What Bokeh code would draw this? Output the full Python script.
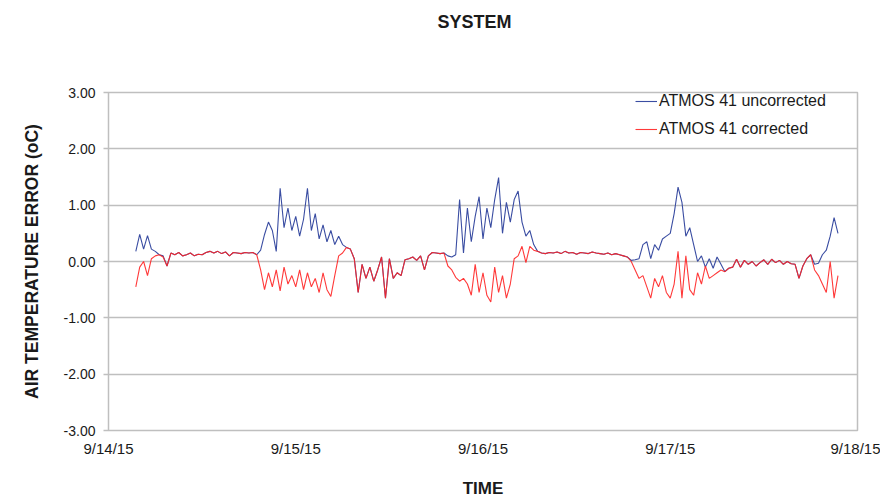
import pandas as pd
from bokeh.plotting import figure
from bokeh.models import (FixedTicker, NumeralTickFormatter, Legend, LegendItem,
                          Range1d, ColumnDataSource, Title)
from bokeh.embed import file_html
from bokeh.resources import INLINE

# ---------------- data ----------------
start = pd.Timestamp("2015-09-14 00:00")
first_hour = 3.5          # first sample, hours after 9/14/15 00:00
step_hours = 0.5          # sampling interval

uncorrected = [
    # early morning 9/14
    0.18, 0.48, 0.22, 0.46, 0.22, 0.18, 0.12, 0.10, -0.08, 0.15, 0.12, 0.16,
    0.10, 0.12, 0.15, 0.10, 0.13, 0.12, 0.16, 0.18, 0.15, 0.18, 0.14, 0.17,
    0.10, 0.16, 0.15, 0.14, 0.16, 0.15, 0.16, 0.12,
    # day 1
    0.20, 0.48, 0.70, 0.55, 0.18, 1.30, 0.60, 0.95, 0.55, 0.80, 0.45, 0.75,
    1.30, 0.55, 0.85, 0.40, 0.65, 0.35, 0.55, 0.30, 0.45, 0.30,
    # night 1
    0.25, 0.22, 0.05, -0.55, -0.05, -0.30, -0.10, -0.35, -0.15, 0.08, -0.65, 0.05,
    -0.30, -0.20, -0.25, 0.03, 0.05, 0.08, 0.02, 0.10, -0.15, 0.10, 0.16, 0.15,
    0.14, 0.15,
    # day 2
    0.10, 0.08, 0.12, 1.10, 0.15, 0.95, 0.35, 0.80, 1.15, 0.40, 0.95, 0.60,
    1.10, 1.49, 0.50, 1.05, 0.70, 1.10, 1.25, 0.70, 0.45, 0.55, 0.30,
    # night 2
    0.18, 0.15, 0.14, 0.16, 0.15, 0.17, 0.14, 0.18, 0.15, 0.16, 0.13, 0.16,
    0.15, 0.14, 0.17, 0.15, 0.14, 0.13, 0.15, 0.12, 0.14, 0.12, 0.10, 0.08,
    # day 3
    0.02, 0.03, 0.05, 0.30, 0.35, 0.05, 0.30, 0.20, 0.40, 0.45, 0.50, 0.85,
    1.32, 1.05, 0.45, 0.60, 0.30, 0.00, 0.10, -0.10, 0.05, -0.12, 0.08, -0.05,
    # night 3
    -0.18, -0.12, -0.10, 0.04, -0.10, 0.02, -0.05, 0.00, -0.08, -0.02, 0.03, -0.05,
    0.04, -0.02, 0.02, -0.05, 0.00, -0.04, -0.05, -0.30, -0.08, 0.05, 0.12,
    # morning 9/17 end
    -0.05, -0.03, 0.12, 0.20, 0.45, 0.78, 0.50,
]

corrected = [
    # early morning 9/14
    -0.45, -0.10, 0.00, -0.25, 0.05, 0.10, 0.12, 0.08, -0.08, 0.15, 0.12, 0.16,
    0.10, 0.12, 0.15, 0.10, 0.13, 0.12, 0.16, 0.18, 0.15, 0.18, 0.14, 0.17,
    0.10, 0.16, 0.15, 0.14, 0.16, 0.15, 0.16, 0.12,
    # day 1
    -0.15, -0.50, -0.20, -0.45, -0.15, -0.52, -0.10, -0.40, -0.25, -0.45, -0.15, -0.50,
    -0.20, -0.45, -0.30, -0.55, -0.20, -0.50, -0.62, -0.25, 0.10, 0.15,
    # night 1
    0.25, 0.22, 0.05, -0.55, -0.05, -0.30, -0.10, -0.35, -0.15, 0.08, -0.65, 0.05,
    -0.30, -0.20, -0.25, 0.03, 0.05, 0.08, 0.02, 0.10, -0.15, 0.10, 0.16, 0.15,
    0.14, 0.15,
    # day 2
    -0.08, -0.15, -0.28, -0.35, -0.30, -0.40, -0.60, -0.05, -0.55, -0.20, -0.60, -0.72,
    -0.10, -0.55, -0.25, -0.65, -0.40, 0.05, 0.10, 0.27, -0.02, 0.27, 0.20,
    # night 2
    0.18, 0.15, 0.14, 0.16, 0.15, 0.17, 0.14, 0.18, 0.15, 0.16, 0.13, 0.16,
    0.15, 0.14, 0.17, 0.15, 0.14, 0.13, 0.15, 0.12, 0.14, 0.12, 0.10, 0.08,
    # day 3
    0.00, -0.15, -0.30, -0.25, -0.45, -0.65, -0.30, -0.45, -0.25, -0.55, -0.65, -0.40,
    0.18, -0.65, 0.10, -0.50, -0.60, -0.20, -0.40, -0.08, -0.30, -0.25, -0.20, -0.15,
    # night 3
    -0.18, -0.12, -0.10, 0.04, -0.10, 0.02, -0.05, 0.00, -0.08, -0.02, 0.03, -0.05,
    0.04, -0.02, 0.02, -0.05, 0.00, -0.04, -0.05, -0.30, -0.08, 0.05, 0.12,
    # morning 9/17 end
    -0.15, -0.25, -0.40, -0.55, 0.00, -0.65, -0.25,
]

x_tick_dates = ["2015-09-14", "2015-09-15", "2015-09-16", "2015-09-17", "2015-09-18"]
x_tick_labels = ["9/14/15", "9/15/15", "9/16/15", "9/17/15", "9/18/15"]
y_ticks = [-3, -2, -1, 0, 1, 2, 3]

series_names = ["ATMOS 41 uncorrected", "ATMOS 41 corrected"]
title_text = "SYSTEM"
# ----------------------------------------------------------------

times = [start + pd.Timedelta(hours=first_hour + step_hours * i) for i in range(len(uncorrected))]
src = ColumnDataSource(dict(t=times, unc=uncorrected, cor=corrected))

def ms(d):
    return int(pd.Timestamp(d).value // 10**6)

tick_ms = [ms(d) for d in x_tick_dates]

FONT = "Liberation Sans"
GRID = "#BFBFBF"

W, H = 880, 500
LEFT, RIGHT, TOP, BOTTOM = 108, 23, 91, 66
FRAME_W = W - LEFT - RIGHT
FRAME_H = H - TOP - BOTTOM

p = figure(width=W, height=H, x_axis_type="datetime",
           x_range=Range1d(tick_ms[0], tick_ms[-1]), y_range=Range1d(-3, 3),
           output_backend="svg", toolbar_location=None,
           min_border_left=LEFT, min_border_right=RIGHT,
           min_border_top=TOP, min_border_bottom=BOTTOM)

r_unc = p.line("t", "unc", source=src, line_color="#3A4DA2", line_width=1.1)
r_cor = p.line("t", "cor", source=src, line_color="#FF2424", line_width=1.1, line_alpha=0.9)

# title (main title) + an invisible spacer title that pushes it to the top
p.title.text = title_text
p.title.align = "left"
p.title.offset = 329
p.title.vertical_align = "bottom"
p.title.standoff = 18
p.title.text_font = FONT
p.title.text_font_size = "18px"
p.title.text_font_style = "bold"
p.title.text_color = "#1a1a1a"

spacer = Title(text=" ", text_font_size="2px", standoff=48, text_color="white")
p.add_layout(spacer, "above")

# axes
xa = p.xaxis[0]
xa.ticker = FixedTicker(ticks=tick_ms)
xa.major_label_overrides = {t: lab for t, lab in zip(tick_ms, x_tick_labels)}
xa.axis_label = "TIME"
xa.axis_label_text_font = FONT
xa.axis_label_text_font_size = "17px"
xa.axis_label_text_font_style = "bold"
xa.axis_label_text_color = "#1a1a1a"
xa.axis_label_standoff = 19
xa.major_label_text_font = FONT
xa.major_label_text_font_size = "15px"
xa.major_label_text_color = "#1a1a1a"
xa.major_label_standoff = 9
xa.axis_line_color = None
xa.major_tick_line_color = None
xa.major_tick_out = 0
xa.major_tick_in = 0
xa.minor_tick_line_color = None

ya = p.yaxis[0]
ya.ticker = FixedTicker(ticks=y_ticks)
ya.formatter = NumeralTickFormatter(format="0.00")
ya.axis_label = "AIR TEMPERATURE ERROR (oC)"
ya.axis_label_text_font = FONT
ya.axis_label_text_font_size = "17.5px"
ya.axis_label_text_font_style = "bold"
ya.axis_label_text_color = "#1a1a1a"
ya.axis_label_standoff = 19
ya.major_label_text_font = FONT
ya.major_label_text_font_size = "14px"
ya.major_label_text_color = "#1a1a1a"
ya.major_label_standoff = 8
ya.axis_line_color = None
ya.major_tick_line_color = GRID
ya.major_tick_line_width = 1.5
ya.major_tick_out = 5
ya.major_tick_in = 0
ya.minor_tick_line_color = None

# grid and frame
p.xgrid.grid_line_color = None
p.ygrid.ticker = FixedTicker(ticks=y_ticks)
p.ygrid.grid_line_color = GRID
p.ygrid.grid_line_width = 1.5
p.outline_line_color = GRID
p.outline_line_width = 1.5
p.background_fill_color = "white"
p.border_fill_color = "white"

legend = Legend(items=[LegendItem(label=series_names[0], renderers=[r_unc]),
                       LegendItem(label=series_names[1], renderers=[r_cor])],
                location=(527, FRAME_H - 4 - 48))
legend.padding = 0
legend.margin = 0
legend.spacing = 8
legend.glyph_width = 22
legend.glyph_height = 20
legend.label_height = 20
legend.label_standoff = 2
legend.label_text_font = FONT
legend.label_text_font_size = "16px"
legend.label_text_color = "#1a1a1a"
legend.border_line_alpha = 0
legend.background_fill_alpha = 0
p.add_layout(legend)

open("out.html", "w").write(file_html(p, INLINE))
